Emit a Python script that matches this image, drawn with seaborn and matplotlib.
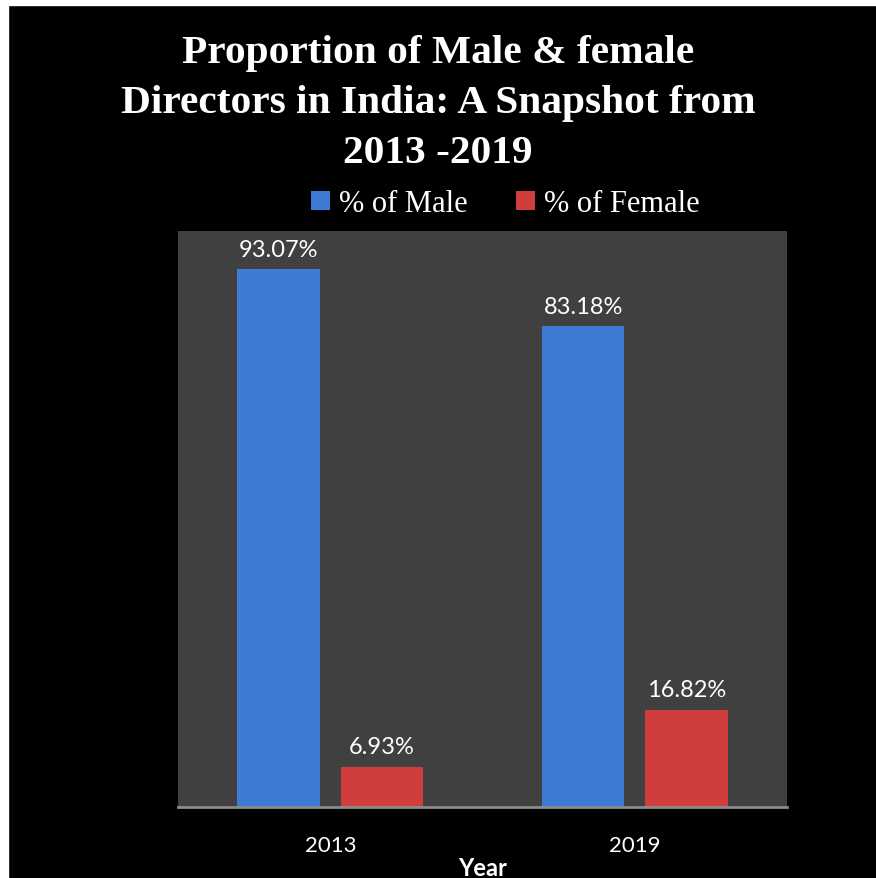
import matplotlib
matplotlib.use("Agg")
import matplotlib.pyplot as plt
from matplotlib.patches import Rectangle, Patch
import seaborn as sns
import pandas as pd

years = ["2013", "2019"]
series = ["% of Male", "% of Female"]
male = [93.07, 83.18]
female = [6.93, 16.82]
title = "Proportion of Male & female\nDirectors in India: A Snapshot from\n2013 -2019"
xlabel = "Year"

df = pd.DataFrame({
    "Year": years * 2,
    "Series": [series[0]] * len(years) + [series[1]] * len(years),
    "Value": male + female,
})

colors = {series[0]: "#3d7bd6", series[1]: "#cf3d3d"}

sns.set_theme(style="dark")
W, H = 876, 879
fig = plt.figure(figsize=(W / 100, H / 100), dpi=100, facecolor="black")

# white margin strips (left and top)
fig.patches.append(Rectangle((0, 0), 8 / W, 1, transform=fig.transFigure, color="white", zorder=-1))
fig.patches.append(Rectangle((0, 1 - 6 / H), 1, 6 / H, transform=fig.transFigure, color="white", zorder=-1))

ax = fig.add_axes([178 / W, (H - 808) / H, (787 - 178) / W, (808 - 232) / H])
ax.set_facecolor("#404040")

sns.barplot(data=df, x="Year", y="Value", hue="Series", palette=colors,
            width=0.677, gap=0.2, ax=ax, legend=False, saturation=1,
            edgecolor="none")

ax.set_ylim(0, 99.7)
ax.set_yticks([])
ax.set_ylabel("")
ax.grid(False)
for s in ["top", "left", "right"]:
    ax.spines[s].set_visible(False)
ax.spines["bottom"].set_visible(True)
ax.spines["bottom"].set_color("#8c8c8c")
ax.spines["bottom"].set_linewidth(2)

for cont in ax.containers:
    ax.bar_label(cont, labels=[f"{v:.2f}%" for v in cont.datavalues], padding=7,
                 color="white", fontsize=17, family="Lato")

ax.tick_params(axis="x", colors="white", labelsize=16, length=0, pad=20)
for t in ax.get_xticklabels():
    t.set_family("Lato")
ax.set_xlabel(xlabel, color="white", fontsize=17, fontweight="bold", family="Lato", labelpad=0)
ax.xaxis.set_label_coords(0.5, -0.085)

fig.text(0.5, 1 - 35 / H, title, ha="center", va="top", color="white",
         fontsize=29.8, fontweight="bold", family="Liberation Serif", linespacing=1.46)

handles = [Patch(facecolor=colors[s], edgecolor="none", label=s) for s in series]
fig.legend(handles=handles, loc="center", bbox_to_anchor=(0.577, 1 - 205 / H), ncol=2,
           frameon=False, labelcolor="white", prop={"family": "Liberation Serif", "size": 22},
           handlelength=0.6, handleheight=0.6, handletextpad=0.3, columnspacing=1.6)

fig.savefig("out.png", dpi=100, facecolor="black")
